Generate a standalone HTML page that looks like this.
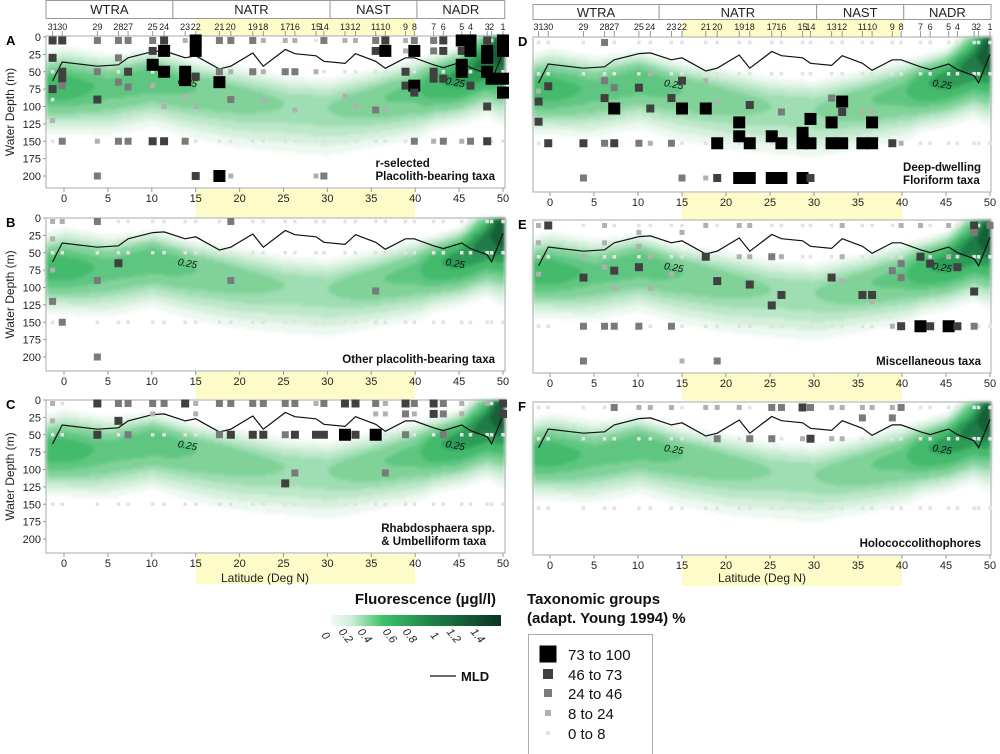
<!DOCTYPE html>
<html><head><meta charset="utf-8">
<style>
body{margin:0;background:#fff;width:1000px;height:754px;overflow:hidden;position:relative;font-family:"Liberation Sans",sans-serif}
canvas{position:absolute;filter:blur(1.6px)}
svg{position:absolute;left:0;top:0}
</style></head><body>
<div id="fl"></div>
<svg id="s" width="1000" height="754"></svg>
<script>
const stations=[31,30,29,28,27,25,24,23,22,21,20,19,18,17,16,15,14,13,12,11,10,9,8,7,6,5,4,3,2,1];
const stationLat=[-1.3,-0.2,3.8,6.2,7.3,10.1,11.4,13.8,15,17.7,19,21.5,22.7,25.2,26.3,28.7,29.6,32,33.2,35.5,36.6,38.9,39.9,42.1,43.2,45.3,46.3,48.2,48.7,50];
const mld=[63,36,42,40,30,21,20,30,27,46,42,23,42,18,24,27,35,38,24,35,45,30,30,40,44,36,44,53,63,22];
const latTicks=[0,5,10,15,20,25,30,35,40,45,50];
const depthTicks=[0,25,50,75,100,125,150,175,200];
const faintDepths=[5,50,150];
const flLat=[-2,0,5,10,15,20,25,30,35,40,42,45,48,50];
const flDcm=[70,70,70,55,70,85,95,100,90,75,65,55,30,10];
const flPeak=[.5,.5,.35,.4,.3,.25,.2,.2,.28,.35,.55,.7,.9,1.3];
const flWu=[30,35,30,25,25,30,30,30,30,30,25,25,30,40];
const flWl=[40,40,45,45,50,50,50,50,45,45,40,40,45,60];
const flLevels=[0.03,0.06,0.1,0.15,0.2,0.3,0.4,0.6,0.8,1.0,1.3];
const flColors=["#edf8f0","#d6f0dd","#bce7c9","#9fddb2","#80d299","#5fc681","#44ba6c","#2c9c57","#1f7c46","#166037","#0e4229","#0a3322"];
const panelA=[[31,5,3],[31,30,3],[31,75,3],[31,90,0],[31,120,1],[30,5,3],[30,50,3],[30,60,3],[30,70,2],[30,150,2],[29,5,2],[29,50,2],[29,90,3],[29,150,1],[29,200,2],[28,5,2],[28,30,2],[28,65,2],[28,150,2],[27,5,2],[27,50,3],[27,72,2],[27,150,2],[25,5,2],[25,20,3],[25,40,4],[25,70,1],[25,150,3],[24,5,3],[24,20,4],[24,50,4],[24,100,1],[24,150,3],[23,5,1],[23,50,4],[23,62,4],[23,85,1],[23,150,2],[22,5,4],[22,20,4],[22,57,3],[22,100,1],[22,200,3],[21,5,2],[21,50,2],[21,65,4],[21,200,4],[20,5,2],[20,50,1],[20,90,2],[20,200,1],[19,5,2],[19,50,2],[18,5,1],[18,50,1],[18,92,1],[17,5,1],[17,50,2],[16,5,1],[16,50,2],[16,105,1],[15,50,1],[15,200,1],[14,5,2],[14,200,2],[13,5,1],[13,85,1],[12,5,1],[12,100,1],[11,5,2],[11,20,3],[11,105,2],[10,5,3],[10,20,4],[10,105,1],[9,5,1],[9,20,1],[9,50,3],[9,70,3],[8,5,2],[8,20,4],[8,70,4],[8,80,3],[8,150,2],[7,5,2],[7,20,2],[7,50,3],[7,60,3],[7,150,1],[6,5,3],[6,20,3],[6,60,3],[6,150,2],[5,5,4],[5,20,3],[5,40,4],[5,50,4],[5,150,1],[4,5,4],[4,20,4],[4,70,3],[4,150,2],[3,5,3],[3,20,4],[3,30,4],[3,50,4],[3,100,3],[3,150,3],[2,60,4],[1,5,4],[1,20,4],[1,60,4],[1,80,4]];
const panelB=[[31,5,1],[31,30,1],[31,75,1],[31,120,2],[30,5,1],[30,150,2],[29,5,2],[29,90,2],[29,200,2],[28,65,3],[20,5,2],[20,90,2],[11,105,2]];
const panelC=[[31,5,1],[31,30,1],[29,5,3],[29,50,3],[28,5,2],[28,30,3],[27,5,2],[27,50,2],[25,5,2],[25,20,1],[24,5,2],[23,5,3],[22,5,1],[22,20,1],[21,5,2],[21,50,2],[20,5,2],[20,50,3],[19,5,2],[19,50,3],[18,5,2],[18,50,3],[17,5,2],[17,50,2],[17,120,3],[16,5,2],[16,50,3],[16,105,2],[15,5,1],[15,50,3],[14,5,2],[14,50,3],[13,5,3],[13,50,4],[12,5,3],[12,50,3],[11,5,2],[11,20,1],[11,50,4],[10,5,1],[10,20,1],[10,105,2],[9,5,3],[9,20,2],[9,50,2],[8,5,2],[8,20,1],[7,5,3],[7,20,3],[6,5,2],[6,20,2],[6,50,2],[5,5,1],[5,20,1],[3,5,1],[1,5,3],[1,20,3]];
const panelD=[[31,75,1],[31,90,3],[31,119,3],[30,68,3],[30,150,3],[29,150,3],[29,200,2],[28,5,2],[28,60,2],[28,85,3],[28,150,2],[27,70,2],[27,100,4],[27,150,3],[25,70,3],[25,150,2],[24,50,1],[24,100,3],[24,150,1],[23,85,3],[23,150,2],[22,60,3],[22,100,4],[22,200,2],[21,60,1],[21,100,4],[21,200,1],[20,90,1],[20,150,4],[20,200,3],[19,120,4],[19,140,4],[19,200,4],[18,95,3],[18,150,4],[18,200,4],[17,140,4],[17,200,4],[16,105,2],[16,150,4],[16,200,4],[15,135,4],[15,150,4],[15,200,4],[14,115,4],[14,150,4],[14,200,3],[13,85,2],[13,120,4],[13,150,4],[12,90,4],[12,105,3],[12,150,4],[11,105,1],[11,150,4],[10,105,1],[10,120,4],[10,150,4],[9,150,3],[8,150,1]];
const panelE=[[31,5,1],[31,30,1],[31,75,1],[30,5,3],[29,50,1],[29,80,3],[29,150,2],[29,200,2],[28,5,1],[28,30,1],[28,65,1],[28,150,2],[27,70,3],[27,95,1],[27,150,2],[25,15,1],[25,35,1],[25,65,3],[25,150,2],[24,50,1],[24,95,1],[23,75,1],[23,150,2],[22,15,1],[22,200,1],[21,5,1],[21,50,3],[20,85,3],[20,200,2],[19,5,1],[19,50,1],[18,5,1],[18,50,1],[18,90,3],[17,50,2],[17,120,3],[16,50,1],[16,105,3],[13,80,3],[12,5,1],[12,50,1],[12,85,1],[11,105,3],[10,105,3],[10,115,1],[9,70,2],[9,150,1],[8,5,1],[8,60,2],[8,80,2],[8,150,3],[7,5,1],[7,50,3],[7,150,4],[6,60,3],[6,150,3],[5,5,1],[5,50,1],[5,150,4],[4,65,3],[4,150,3],[3,5,3],[3,15,2],[3,100,3],[3,150,2],[1,5,2]];
const panelF=[[27,5,2],[25,5,1],[24,5,1],[23,5,1],[21,5,1],[20,5,1],[19,5,1],[17,5,2],[16,5,2],[15,5,3],[14,5,2],[13,5,1],[12,5,1],[11,5,1],[10,5,1],[9,5,1],[8,5,2],[11,20,2],[9,20,2],[20,50,2],[18,50,2],[17,50,2],[15,50,1],[14,50,3],[13,50,1],[12,50,1]];
const legendRanges=["73  to  100","46  to  73","24  to  46","8  to  24","0  to  8"];
const flTickLabels=["0","0.2","0.4","0.6","0.8","1","1.2","1.4"];

const NS="http://www.w3.org/2000/svg";
const S=document.getElementById('s');
function mk(tag,attrs,parent,text){const e=document.createElementNS(NS,tag);for(const k in attrs)e.setAttribute(k,attrs[k]);if(text!==undefined)e.textContent=text;(parent||S).appendChild(e);return e;}
const clsSize=[3.5,5,7,8,12];
const clsCol=["#e2e2e2","#b0b0b0","#7a7a7a","#404040","#000000"];
function interp(arr,lat){for(let i=0;i<flLat.length-1;i++){if(lat<=flLat[i+1]){const t=(lat-flLat[i])/(flLat[i+1]-flLat[i]);return arr[i]+(arr[i+1]-arr[i])*Math.max(0,Math.min(1,t));}}return arr[arr.length-1];}
function flu(lat,d){const dc=interp(flDcm,lat),p=interp(flPeak,lat);const w=d<dc?interp(flWu,lat):interp(flWl,lat);return p*Math.exp(-Math.pow((d-dc)/w,2));}
function colorFor(v){let c=-1;for(let i=0;i<flLevels.length;i++)if(v>=flLevels[i])c=i;return c<0?null:flColors[c];}

const panels=[
 {id:'A',data:panelA,bx0:46,bx1:505,lat0:64,sc:8.78,top:36,d0:37,bot:188,lbl:["r-selected","Placolith-bearing taxa"],yl:true,head:true},
 {id:'B',data:panelB,bx0:46,bx1:505,lat0:64,sc:8.78,top:218,d0:218,bot:371,lbl:["Other placolith-bearing taxa"],yl:true},
 {id:'C',data:panelC,bx0:46,bx1:505,lat0:64,sc:8.78,top:400,d0:400,bot:553,lbl:["Rhabdosphaera spp.","& Umbelliform taxa"],yl:true},
 {id:'D',data:panelD,bx0:533,bx1:991,lat0:550,sc:8.8,top:37,d0:39,bot:192,lbl:["Deep-dwelling","Floriform taxa"],yl:false,head:true},
 {id:'E',data:panelE,bx0:533,bx1:991,lat0:550,sc:8.8,top:220,d0:222,bot:373,lbl:["Miscellaneous taxa"],yl:false},
 {id:'F',data:panelF,bx0:533,bx1:991,lat0:550,sc:8.8,top:402,d0:404,bot:555,lbl:["Holococcolithophores"],yl:false}
];
const pxm=0.695;

function yband(p,y,h){mk('rect',{x:p.lat0+15*p.sc,y:y,width:25*p.sc,height:h,fill:'#fdfbc8',});}
panels.forEach(p=>{
 if(p.head) yband(p,19,p.top-19);
 const isLast=(p.id==='C'||p.id==='F');
 yband(p,p.bot+1,isLast?30:(p.id==='A'?29:27));
});

const FL=document.getElementById('fl');
panels.forEach(p=>{
 const X=lat=>p.lat0+lat*p.sc, Y=d=>p.d0+d*pxm;
 const w=p.bx1-p.bx0,h=p.bot-p.top;
 const cv=document.createElement('canvas');cv.width=w;cv.height=h;cv.style.left=p.bx0+'px';cv.style.top=p.top+'px';
 
 
 const ctx=cv.getContext('2d');
 for(let yy=0;yy<h;yy+=2)for(let xx=0;xx<w;xx+=2){const lat=(p.bx0+xx-p.lat0)/p.sc,d=(p.top+yy-p.d0)/pxm;const c=colorFor(flu(lat,Math.max(0,d)));if(c){ctx.fillStyle=c;ctx.fillRect(xx,yy,2,2);}}
 FL.appendChild(cv);
 const g=mk('g',{});
 mk('rect',{x:p.bx0,y:p.top,width:w,height:h,fill:'none',stroke:'#aaa','stroke-width':1,},g);
 mk('text',{x:p.bx0-(p.yl?40:15),y:p.top+9,'font-size':13,'font-weight':'bold',},g,p.id);
 if(p.head){
  const hg=mk('g',{},g);
  const provs=[["WTRA",-2.1,12.4],["NATR",12.4,30.3],["NAST",30.3,40.2],["NADR",40.2,50.2]];
  provs.forEach(pr=>{const x0=Math.max(p.bx0,X(pr[1])),x1=Math.min(p.bx1,X(pr[2]));
   mk('rect',{x:x0,y:p.id==='A'?0.5:4.5,width:x1-x0,height:p.id==='A'?18:15,fill:'#fff',stroke:'#999',},hg);
   mk('text',{x:(x0+x1)/2,y:p.id==='A'?14:17,'font-size':13,'text-anchor':'middle',fill:'#222',},hg,pr[0]);});
  stations.forEach((s,i)=>{const x=X(stationLat[i]);
   mk('text',{x:x,y:30,'font-size':9,'text-anchor':'middle',fill:'#222',},hg,String(s));
   mk('line',{x1:x,x2:x,y1:31,y2:p.top,stroke:'#999',},hg);});
 }
 if(p.yl){
  depthTicks.forEach(d=>{mk('text',{x:p.bx0-5,y:Y(d)+4,'font-size':11,'text-anchor':'end',fill:'#222',},g,String(d));
   mk('line',{x1:p.bx0-3,x2:p.bx0,y1:Y(d),y2:Y(d),stroke:'#999',},g);});
  const cy=(p.top+p.bot)/2;
  mk('text',{x:14,y:cy,'font-size':12,'text-anchor':'middle',transform:`rotate(-90 14 ${cy})`,fill:'#222',},g,'Water Depth (m)');
 }
 latTicks.forEach(l=>{mk('line',{x1:X(l),x2:X(l),y1:p.bot,y2:p.bot+4,stroke:'#999',},g);
  mk('text',{x:X(l),y:p.bot+14,'font-size':11,'text-anchor':'middle',fill:'#222',},g,String(l));});
 stations.forEach((s,i)=>{faintDepths.forEach(d=>{if(p.data.some(r=>r[0]===s&&Math.abs(r[1]-d)<8))return;
  const sz=clsSize[0];const r=mk('rect',{x:X(stationLat[i])-sz/2,y:Y(d)-sz/2,width:sz,height:sz,fill:clsCol[0]},g);
  
  });});
 const pts=stations.map((s,i)=>X(stationLat[i]).toFixed(1)+','+Y(mld[i]).toFixed(1)).join(' ');
 mk('polyline',{points:pts,fill:'none',stroke:'#111','stroke-width':1.2,},g);
 [[14,70],[44.5,70]].forEach(c=>mk('text',{x:X(c[0]),y:Y(c[1]),'font-size':10,'font-style':'italic','text-anchor':'middle',transform:`rotate(10 ${X(c[0])} ${Y(c[1])})`,fill:'#111',},g,'0.25'));
 p.data.forEach(r=>{const i=stations.indexOf(r[0]);const sz=clsSize[r[2]];
  const e=mk('rect',{x:X(stationLat[i])-sz/2,y:Y(r[1])-sz/2,width:sz,height:sz,fill:clsCol[r[2]]},g);
  
  });
 const lts=p.lbl.map((t,k)=>mk('text',{x:0,y:p.bot-(p.lbl.length-k)*13+5,'font-size':11.5,'font-weight':'bold',fill:'#111',},g,t));
 let mw=0;lts.forEach(t=>{mw=Math.max(mw,t.getComputedTextLength());});
 lts.forEach(t=>t.setAttribute('x',p.bx1-10-mw));
});
mk('text',{x:265,y:582,'font-size':12,'text-anchor':'middle',fill:'#222',},S,'Latitude (Deg N)');
mk('text',{x:762,y:582,'font-size':12,'text-anchor':'middle',fill:'#222',},S,'Latitude (Deg N)');
const lg=mk('g',{});
mk('text',{x:496,y:604,'font-size':15,'font-weight':'bold','text-anchor':'end',fill:'#111',},lg,'Fluorescence (µgl/l)');
const defs=mk('defs',{});
const grad=mk('linearGradient',{id:'gr',x1:0,x2:1,y1:0,y2:0},defs);
[["0","#f3fbf5"],["0.12","#cdeed6"],["0.3","#3cc46a"],["0.6","#1f7f48"],["1","#0b3322"]].forEach(s=>mk('stop',{offset:s[0],'stop-color':s[1]},grad));
mk('rect',{x:331,y:615,width:170,height:11,fill:'url(#gr)',},lg);
const flTickX=[323,343,362,387,407,432,451,475];
flTickLabels.forEach((t,i)=>mk('text',{x:flTickX[i],y:638,'font-size':11,'font-style':'italic',transform:`rotate(50 ${flTickX[i]} 638)`,fill:'#222','text-anchor':'middle',},lg,t));
mk('line',{x1:430,x2:456,y1:676,y2:676,stroke:'#111','stroke-width':1.2,},lg);
mk('text',{x:461,y:681,'font-size':13,'font-weight':'bold',fill:'#111',},lg,'MLD');
const tg=mk('g',{});
mk('text',{x:527,y:604,'font-size':15,'font-weight':'bold',fill:'#111',},tg,'Taxonomic groups');
mk('text',{x:527,y:623,'font-size':15,'font-weight':'bold',fill:'#111',},tg,'(adapt. Young 1994) %');
mk('rect',{x:528.5,y:634.5,width:124,height:125,fill:'#fff',stroke:'#aaa',},tg);
const legY=[654,674,693,713,733];
legendRanges.forEach((t,k)=>{const c=4-k,sz=[17,10,8,6,4][k];
 mk('rect',{x:548-sz/2,y:legY[k]-sz/2,width:sz,height:sz,fill:clsCol[c],},tg);
 mk('text',{x:568,y:legY[k]+6,'font-size':15,fill:'#111','xml:space':'preserve',},tg,t);});
</script>
</body></html>
